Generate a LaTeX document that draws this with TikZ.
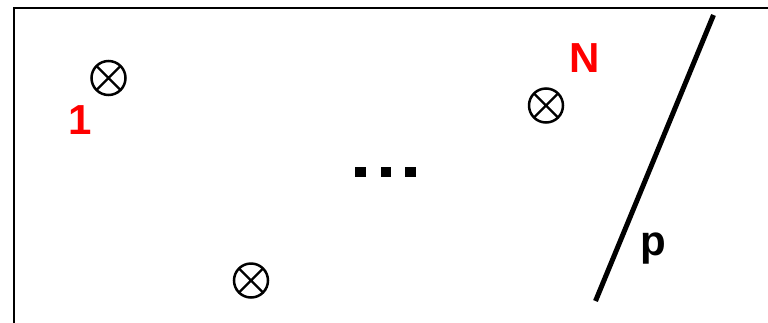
\documentclass[tikz,border=0pt]{standalone}
\usepackage{fontspec}
\setmainfont{Liberation Sans}
\begin{document}
\begin{tikzpicture}[x=1pt,y=-1pt,
  src/.style={circle,draw=black,line width=2.5pt,minimum size=34pt,inner sep=0pt,
    path picture={\draw[line width=2.3pt] (path picture bounding box.north west) -- (path picture bounding box.south east)
      (path picture bounding box.north east) -- (path picture bounding box.south west);}},
  lab/.style={inner sep=0pt,font=\fontsize{42}{42}\selectfont\bfseries},
  dotsq/.style={fill=black,minimum size=10.5pt,inner sep=0pt}]
\useasboundingbox (0,0) rectangle (768,322);
\coordinate (bl) at (13.5,330);
\coordinate (tl) at (13.5,8);
\coordinate (tr) at (775,8);
\draw[line width=2pt] (bl) -- (tl) -- (tr);
\node[src] (s1) at (108.5,78) {};
\node[src] (sN) at (546,105.5) {};
\node[src] (s2) at (251,280.5) {};
\node[lab,text=red] (l1) at (80,120) {1};
\node[lab,text=red] (lN) at (584.5,58.5) {N};
\node[dotsq] (d1) at (360.5,172) {};
\node[dotsq] (d2) at (386,172) {};
\node[dotsq] (d3) at (410.5,172) {};
\coordinate (pt) at (713.5,15);
\coordinate (pb) at (595.5,301);
\draw[line width=5pt] (pt) -- (pb);
\node[lab] (lp) at (653.5,248.5) {p};
\end{tikzpicture}
\end{document}
